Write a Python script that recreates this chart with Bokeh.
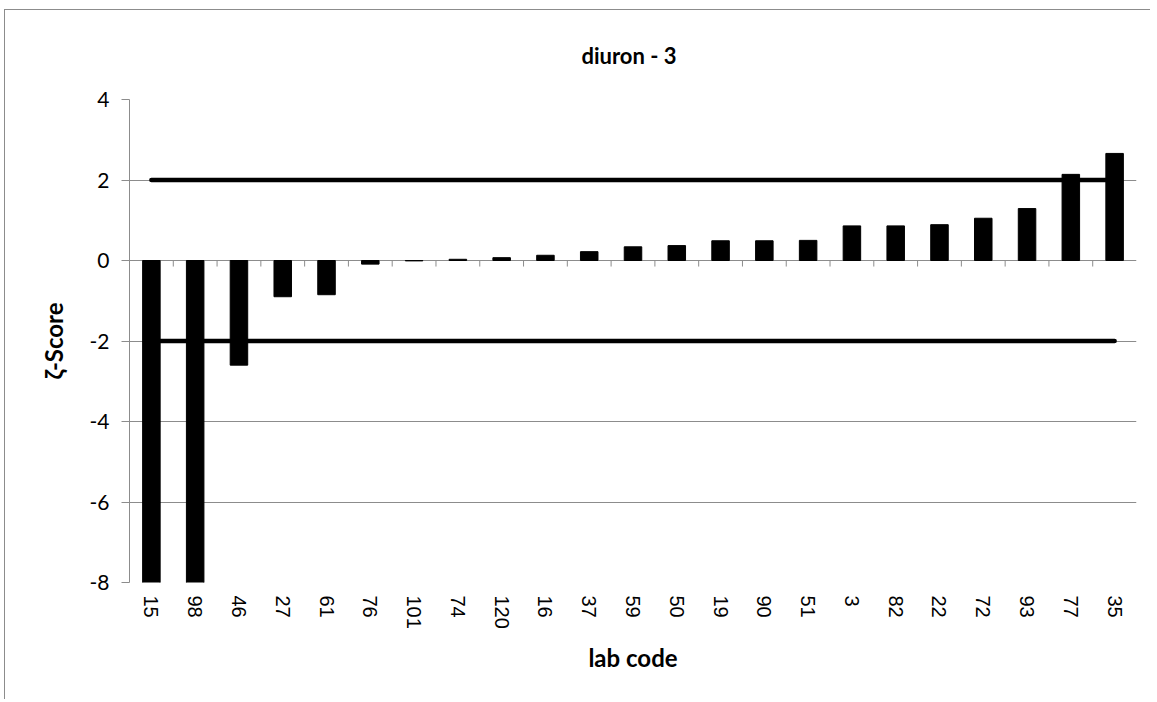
import numpy as np
from bokeh.plotting import figure
from bokeh.models import FixedTicker, Range1d, Title
from bokeh.embed import file_html
from bokeh.resources import INLINE

labs = ["15", "98", "46", "27", "61", "76", "101", "74", "120", "16", "37", "59",
        "50", "19", "90", "51", "3", "82", "22", "72", "93", "77", "35"]
scores = [-10.5, -11.0, -2.6, -0.9, -0.85, -0.09, -0.01, 0.03, 0.07, 0.13, 0.22, 0.34,
          0.37, 0.49, 0.49, 0.5, 0.86, 0.86, 0.89, 1.05, 1.29, 2.14, 2.66]
limits = [2, -2]
y_ticks = [-8, -6, -4, -2, 0, 2, 4]
title_text = "diuron - 3"

GRID = "#8c8c8c"
FONT = "Lato"

n = len(labs)
xs = np.arange(n) + 0.5

p = figure(width=1146, height=690, output_backend="svg", toolbar_location=None,
           x_range=Range1d(0, n), y_range=Range1d(-8, 4),
           min_border_left=124, min_border_right=15, min_border_top=89, min_border_bottom=118)
p.outline_line_color = None
p.styles = {"margin-left": "4px", "margin-top": "9px",
            "border-top": "1px solid #8c8c8c", "border-left": "1px solid #8c8c8c"}

xax = p.below[0]
yax = p.left[0]

p.title = Title(text=title_text, align="left", offset=452, standoff=58, vertical_align="top",
                text_font=FONT, text_font_size="22px", text_font_style="bold", text_color="#000000")

# bars
p.vbar(x=xs, top=scores, bottom=0, width=0.4, fill_color="#000000", line_color="#000000")

# limit lines
for lim in limits:
    p.line(x=[xs[0], xs[-1]], y=[lim, lim], line_color="#000000", line_width=4.5, line_cap="round")

# category boundary ticks on zero line
bounds = np.arange(1, n)
p.segment(x0=bounds, y0=np.zeros(len(bounds)), x1=bounds, y1=np.full(len(bounds), -0.15),
          line_color=GRID, line_width=1)

# y axis
yax.ticker = FixedTicker(ticks=y_ticks)
yax.major_label_overrides = {t: str(t) for t in y_ticks}
yax.axis_line_color = GRID
yax.major_tick_line_color = GRID
yax.major_tick_out = 8
yax.major_tick_in = 0
yax.minor_tick_line_color = None
yax.major_label_text_font = FONT
yax.major_label_text_font_size = "21px"
yax.major_label_text_color = "#000000"
yax.major_label_standoff = 12
yax.axis_label = "ζ-Score"
yax.axis_label_text_font = FONT
yax.axis_label_text_font_size = "24px"
yax.axis_label_text_font_style = "bold"
yax.axis_label_text_color = "#000000"
yax.axis_label_standoff = 19

# x axis (bottom)
xax.ticker = FixedTicker(ticks=list(xs))
xax.major_label_overrides = {float(x): l for x, l in zip(xs, labs)}
xax.major_label_orientation = "vertical"
xax.axis_line_color = None
xax.major_tick_line_color = None
xax.minor_tick_line_color = None
xax.major_label_text_font = "Liberation Sans"
xax.major_label_text_font_size = "20px"
xax.major_label_text_color = "#000000"
xax.major_label_standoff = 7
xax.axis_label = "lab code"
xax.axis_label_text_font = FONT
xax.axis_label_text_font_size = "24px"
xax.axis_label_text_font_style = "bold"
xax.axis_label_text_color = "#000000"
xax.axis_label_standoff = 11

p.xgrid.grid_line_color = None
p.ygrid.ticker = FixedTicker(ticks=y_ticks)
p.ygrid.grid_line_color = GRID
p.ygrid.grid_line_width = 1

open("out.html", "w").write(file_html(p, INLINE))
